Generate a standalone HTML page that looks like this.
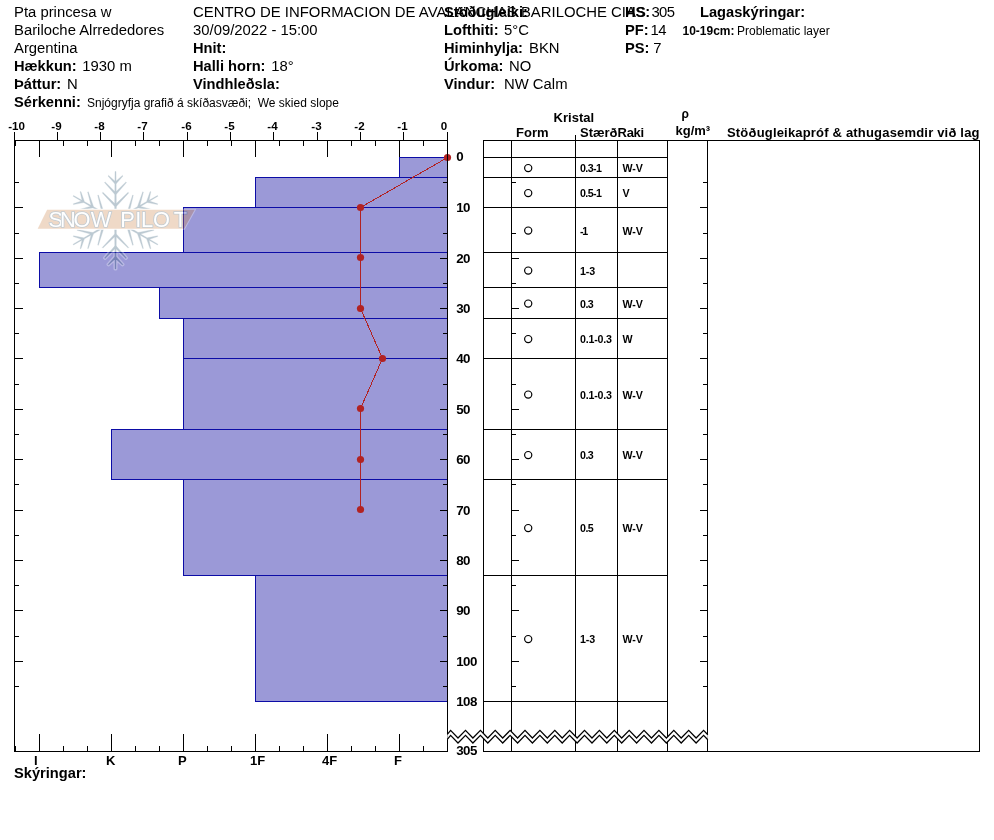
<!DOCTYPE html>
<html lang="is"><head><meta charset="utf-8"><title>Snow profile</title>
<style>html,body{margin:0;padding:0;background:#fff}svg{display:block}text{font-family:"Liberation Sans",sans-serif;fill:#000}.b{font-weight:bold}</style></head><body>
<svg width="994" height="840" viewBox="0 0 994 840">
<rect width="994" height="840" fill="#fff"/>
<g id="header">
<text x="14" y="16.7" font-size="14.85">Pta princesa w</text>
<text x="14" y="34.7" font-size="14.85">Bariloche Alrrededores</text>
<text x="14" y="52.7" font-size="14.85">Argentina</text>
<text x="14" y="70.7" font-size="14.67" class="b">Hækkun:</text>
<text x="82.3" y="70.7" font-size="14.85">1930 m</text>
<text x="14" y="88.7" font-size="14.67" class="b">Þáttur:</text>
<text x="67.1" y="88.7" font-size="14.85">N</text>
<text x="14" y="106.7" font-size="14.67" class="b">Sérkenni:</text>
<text x="87" y="106.7" font-size="12" style="white-space:pre">Snjógryfja grafið á skíðasvæði;  We skied slope</text>
<text x="193" y="16.7" font-size="14.9">CENTRO DE INFORMACION DE AVALANCHAS BARILOCHE CIAS</text>
<text x="193" y="34.7" font-size="14.85">30/09/2022 - 15:00</text>
<text x="193" y="52.7" font-size="14.67" class="b">Hnit:</text>
<text x="193" y="70.7" font-size="14.67" class="b">Halli horn:</text>
<text x="271.3" y="70.7" font-size="14.85">18°</text>
<text x="193" y="88.7" font-size="14.67" class="b">Vindhleðsla:</text>
<text x="444" y="16.7" font-size="14.67" class="b">Stöðugleiki:</text>
<text x="444" y="34.7" font-size="14.67" class="b">Lofthiti:</text>
<text x="504" y="34.7" font-size="14.85">5°C</text>
<text x="444" y="52.7" font-size="14.67" class="b">Himinhylja:</text>
<text x="529" y="52.7" font-size="14.85">BKN</text>
<text x="444" y="70.7" font-size="14.67" class="b">Úrkoma:</text>
<text x="509" y="70.7" font-size="14.85">NO</text>
<text x="444" y="88.7" font-size="14.67" class="b">Vindur:</text>
<text x="504" y="88.7" font-size="14.85">NW Calm</text>
<text x="625" y="16.7" font-size="14.67" class="b">HS:</text>
<text x="651.4" y="16.7" font-size="14.85" textLength="23.6" lengthAdjust="spacing">305</text>
<text x="625" y="34.7" font-size="14.67" class="b">PF:</text>
<text x="650.6" y="34.7" font-size="14.85" textLength="15.9" lengthAdjust="spacing">14</text>
<text x="625" y="52.7" font-size="14.67" class="b">PS:</text>
<text x="653.3" y="52.7" font-size="14.85">7</text>
<text x="700" y="16.7" font-size="14.67" class="b">Lagaskýringar:</text>
<text x="682.5" y="34.7" font-size="12" class="b">10-19cm:</text>
<text x="737" y="34.7" font-size="12">Problematic layer</text>
</g>
<g id="bars" fill="#9b99d7" stroke="#0c0ca6" stroke-width="1">
<rect x="399.5" y="157.5" width="48.0" height="20.0"/>
<rect x="255.5" y="177.5" width="192.0" height="30.0"/>
<rect x="183.5" y="207.5" width="264.0" height="45.0"/>
<rect x="39.5" y="252.5" width="408.0" height="35.0"/>
<rect x="159.5" y="287.5" width="288.0" height="31.0"/>
<rect x="183.5" y="318.5" width="264.0" height="40.0"/>
<rect x="183.5" y="358.5" width="264.0" height="71.0"/>
<rect x="111.5" y="429.5" width="336.0" height="50.0"/>
<rect x="183.5" y="479.5" width="264.0" height="96.0"/>
<rect x="255.5" y="575.5" width="192.0" height="126.0"/>
</g>
<g id="logo" opacity="0.31">
<path d="M116.5 220.2L116.0 171.5L115.0 171.5L114.5 220.2ZM116.2 182.3L108.6 175.4L108.0 176.0L114.8 183.7ZM116.2 183.7L123.0 176.0L122.4 175.4L114.8 182.3ZM116.3 192.9L105.1 181.9L104.5 182.5L114.7 194.3ZM116.3 194.3L126.5 182.5L125.9 181.9L114.7 192.9ZM116.3 205.1L102.9 192.3L102.3 192.9L114.7 206.5ZM116.3 206.5L128.7 192.9L128.1 192.3L114.7 205.1ZM116.0 221.1L157.9 196.2L157.5 195.5L115.0 219.3ZM148.7 201.9L150.8 191.8L150.1 191.6L146.7 201.3ZM147.5 202.6L157.5 204.6L157.7 203.8L148.0 200.6ZM139.5 207.2L143.4 192.0L142.7 191.8L137.5 206.6ZM138.3 207.9L153.7 210.9L153.9 210.1L138.8 205.9ZM129.0 213.3L133.3 195.3L132.6 195.1L127.0 212.7ZM127.7 214.0L145.8 218.0L146.0 217.2L128.2 212.0ZM115.0 221.1L157.5 244.9L157.9 244.2L116.0 219.3ZM148.0 239.8L157.7 236.6L157.5 235.8L147.5 237.8ZM146.7 239.1L150.1 248.8L150.8 248.6L148.7 238.5ZM138.8 234.5L153.9 230.3L153.7 229.5L138.3 232.5ZM137.5 233.8L142.7 248.6L143.4 248.4L139.5 233.2ZM128.2 228.4L146.0 223.2L145.8 222.4L127.7 226.4ZM127.0 227.7L132.6 245.3L133.3 245.1L129.0 227.1ZM114.5 220.2L115.0 268.9L116.0 268.9L116.5 220.2ZM114.8 258.1L122.4 265.0L123.0 264.4L116.2 256.7ZM114.8 256.7L108.0 264.4L108.6 265.0L116.2 258.1ZM114.7 247.5L125.9 258.5L126.5 257.9L116.3 246.1ZM114.7 246.1L104.5 257.9L105.1 258.5L116.3 247.5ZM114.7 235.3L128.1 248.1L128.7 247.5L116.3 233.9ZM114.7 233.9L102.3 247.5L102.9 248.1L116.3 235.3ZM115.0 219.3L73.1 244.2L73.5 244.9L116.0 221.1ZM82.3 238.5L80.2 248.6L80.9 248.8L84.3 239.1ZM83.5 237.8L73.5 235.8L73.3 236.6L83.0 239.8ZM91.5 233.2L87.6 248.4L88.3 248.6L93.5 233.8ZM92.7 232.5L77.3 229.5L77.1 230.3L92.2 234.5ZM102.0 227.1L97.7 245.1L98.4 245.3L104.0 227.7ZM103.3 226.4L85.2 222.4L85.0 223.2L102.8 228.4ZM116.0 219.3L73.5 195.5L73.1 196.2L115.0 221.1ZM83.0 200.6L73.3 203.8L73.5 204.6L83.5 202.6ZM84.3 201.3L80.9 191.6L80.2 191.8L82.3 201.9ZM92.2 205.9L77.1 210.1L77.3 210.9L92.7 207.9ZM93.5 206.6L88.3 191.8L87.6 192.0L91.5 207.2ZM102.8 212.0L85.0 217.2L85.2 218.0L103.3 214.0ZM104.0 212.7L98.4 195.1L97.7 195.3L102.0 213.3Z" fill="#fff" stroke="#fff" stroke-width="3" stroke-linejoin="round"/>
<path d="M116.5 220.2L116.0 171.5L115.0 171.5L114.5 220.2ZM116.2 182.3L108.6 175.4L108.0 176.0L114.8 183.7ZM116.2 183.7L123.0 176.0L122.4 175.4L114.8 182.3ZM116.3 192.9L105.1 181.9L104.5 182.5L114.7 194.3ZM116.3 194.3L126.5 182.5L125.9 181.9L114.7 192.9ZM116.3 205.1L102.9 192.3L102.3 192.9L114.7 206.5ZM116.3 206.5L128.7 192.9L128.1 192.3L114.7 205.1ZM116.0 221.1L157.9 196.2L157.5 195.5L115.0 219.3ZM148.7 201.9L150.8 191.8L150.1 191.6L146.7 201.3ZM147.5 202.6L157.5 204.6L157.7 203.8L148.0 200.6ZM139.5 207.2L143.4 192.0L142.7 191.8L137.5 206.6ZM138.3 207.9L153.7 210.9L153.9 210.1L138.8 205.9ZM129.0 213.3L133.3 195.3L132.6 195.1L127.0 212.7ZM127.7 214.0L145.8 218.0L146.0 217.2L128.2 212.0ZM115.0 221.1L157.5 244.9L157.9 244.2L116.0 219.3ZM148.0 239.8L157.7 236.6L157.5 235.8L147.5 237.8ZM146.7 239.1L150.1 248.8L150.8 248.6L148.7 238.5ZM138.8 234.5L153.9 230.3L153.7 229.5L138.3 232.5ZM137.5 233.8L142.7 248.6L143.4 248.4L139.5 233.2ZM128.2 228.4L146.0 223.2L145.8 222.4L127.7 226.4ZM127.0 227.7L132.6 245.3L133.3 245.1L129.0 227.1ZM114.5 220.2L115.0 268.9L116.0 268.9L116.5 220.2ZM114.8 258.1L122.4 265.0L123.0 264.4L116.2 256.7ZM114.8 256.7L108.0 264.4L108.6 265.0L116.2 258.1ZM114.7 247.5L125.9 258.5L126.5 257.9L116.3 246.1ZM114.7 246.1L104.5 257.9L105.1 258.5L116.3 247.5ZM114.7 235.3L128.1 248.1L128.7 247.5L116.3 233.9ZM114.7 233.9L102.3 247.5L102.9 248.1L116.3 235.3ZM115.0 219.3L73.1 244.2L73.5 244.9L116.0 221.1ZM82.3 238.5L80.2 248.6L80.9 248.8L84.3 239.1ZM83.5 237.8L73.5 235.8L73.3 236.6L83.0 239.8ZM91.5 233.2L87.6 248.4L88.3 248.6L93.5 233.8ZM92.7 232.5L77.3 229.5L77.1 230.3L92.2 234.5ZM102.0 227.1L97.7 245.1L98.4 245.3L104.0 227.7ZM103.3 226.4L85.2 222.4L85.0 223.2L102.8 228.4ZM116.0 219.3L73.5 195.5L73.1 196.2L115.0 221.1ZM83.0 200.6L73.3 203.8L73.5 204.6L83.5 202.6ZM84.3 201.3L80.9 191.6L80.2 191.8L82.3 201.9ZM92.2 205.9L77.1 210.1L77.3 210.9L92.7 207.9ZM93.5 206.6L88.3 191.8L87.6 192.0L91.5 207.2ZM102.8 212.0L85.0 217.2L85.2 218.0L103.3 214.0ZM104.0 212.7L98.4 195.1L97.7 195.3L102.0 213.3Z" fill="#2a5470" stroke="#2a5470" stroke-width="0.3" stroke-linejoin="round"/>
<polygon points="47.1,209.8 194.7,209.8 184.1,228.8 37.7,228.8" fill="#ce874d" stroke="#fff" stroke-width="2"/>
<polygon points="47.1,209.8 194.7,209.8 184.1,228.8 37.7,228.8" fill="#ce874d"/>
<text x="48.6 60 73.5 90.8 112 120.3 135.2 141 153.1 173.7" y="227.4" font-size="21.8" fill="#fff" stroke="#3c5a70" stroke-width="1.7" paint-order="stroke" style="fill:#fff">SNOW PILOT</text>
</g>
<polyline points="447.5,157.5 360.5,207.5 360.5,257.5 360.5,308.5 382.5,358.5 360.5,408.5 360.5,459.5 360.5,509.5" fill="none" stroke="#b22222" stroke-width="1" shape-rendering="crispEdges"/>
<circle cx="447.5" cy="157.5" r="3.6" fill="#b22222"/>
<circle cx="360.5" cy="207.5" r="3.6" fill="#b22222"/>
<circle cx="360.5" cy="257.5" r="3.6" fill="#b22222"/>
<circle cx="360.5" cy="308.5" r="3.6" fill="#b22222"/>
<circle cx="382.5" cy="358.5" r="3.6" fill="#b22222"/>
<circle cx="360.5" cy="408.5" r="3.6" fill="#b22222"/>
<circle cx="360.5" cy="459.5" r="3.6" fill="#b22222"/>
<circle cx="360.5" cy="509.5" r="3.6" fill="#b22222"/>
<g id="axes" stroke="#000" stroke-width="1" fill="none" shape-rendering="crispEdges">
<path d="M14.5 140.5H448.0M14.5 140V751.5H448.0M447.5 140V752"/>
<path d="M14.5 141V132M57.5 141V132M100.5 141V132M143.5 141V132M187.5 141V132M230.5 141V132M273.5 141V132M317.5 141V132M360.5 141V132M403.5 141V132M447.5 141V132"/>
<path d="M15.5 141v5M15.5 751v-5M39.5 141v16M39.5 751v-17M63.5 141v5M63.5 751v-5M87.5 141v5M87.5 751v-5M111.5 141v16M111.5 751v-17M135.5 141v5M135.5 751v-5M159.5 141v5M159.5 751v-5M183.5 141v16M183.5 751v-17M207.5 141v5M207.5 751v-5M231.5 141v5M231.5 751v-5M255.5 141v16M255.5 751v-17M279.5 141v5M279.5 751v-5M303.5 141v5M303.5 751v-5M327.5 141v16M327.5 751v-17M351.5 141v5M351.5 751v-5M375.5 141v5M375.5 751v-5M399.5 141v16M399.5 751v-17M423.5 141v5M423.5 751v-5M447.5 141v5M447.5 751v-5"/>
<path d="M15.0 182.5h4M447.0 182.5h-4M15.0 207.5h8M447.0 207.5h-7M15.0 233.5h4M447.0 233.5h-4M15.0 258.5h8M447.0 258.5h-7M15.0 283.5h4M447.0 283.5h-4M15.0 308.5h8M447.0 308.5h-7M15.0 333.5h4M447.0 333.5h-4M15.0 358.5h8M447.0 358.5h-7M15.0 384.5h4M447.0 384.5h-4M15.0 409.5h8M447.0 409.5h-7M15.0 434.5h4M447.0 434.5h-4M15.0 459.5h8M447.0 459.5h-7M15.0 484.5h4M447.0 484.5h-4M15.0 510.5h8M447.0 510.5h-7M15.0 535.5h4M447.0 535.5h-4M15.0 560.5h8M447.0 560.5h-7M15.0 585.5h4M447.0 585.5h-4M15.0 610.5h8M447.0 610.5h-7M15.0 636.5h4M447.0 636.5h-4M15.0 661.5h8M447.0 661.5h-7M15.0 686.5h4M447.0 686.5h-4"/>
</g>
<text x="8.2" y="130.4" font-size="11.6" class="b">-10</text>
<text x="56.5" y="130.4" font-size="11.6" class="b" text-anchor="middle">-9</text>
<text x="99.5" y="130.4" font-size="11.6" class="b" text-anchor="middle">-8</text>
<text x="142.5" y="130.4" font-size="11.6" class="b" text-anchor="middle">-7</text>
<text x="186.5" y="130.4" font-size="11.6" class="b" text-anchor="middle">-6</text>
<text x="229.5" y="130.4" font-size="11.6" class="b" text-anchor="middle">-5</text>
<text x="272.5" y="130.4" font-size="11.6" class="b" text-anchor="middle">-4</text>
<text x="316.5" y="130.4" font-size="11.6" class="b" text-anchor="middle">-3</text>
<text x="359.5" y="130.4" font-size="11.6" class="b" text-anchor="middle">-2</text>
<text x="402.5" y="130.4" font-size="11.6" class="b" text-anchor="middle">-1</text>
<text x="443.9" y="130.4" font-size="11.6" class="b" text-anchor="middle">0</text>
<text x="456.3" y="161.3" font-size="13.33" class="b" textLength="7" lengthAdjust="spacing">0</text>
<text x="456.3" y="211.5" font-size="13.33" class="b" textLength="14" lengthAdjust="spacing">10</text>
<text x="456.3" y="262.8" font-size="13.33" class="b" textLength="14" lengthAdjust="spacing">20</text>
<text x="456.3" y="312.8" font-size="13.33" class="b" textLength="14" lengthAdjust="spacing">30</text>
<text x="456.3" y="362.8" font-size="13.33" class="b" textLength="14" lengthAdjust="spacing">40</text>
<text x="456.3" y="413.8" font-size="13.33" class="b" textLength="14" lengthAdjust="spacing">50</text>
<text x="456.3" y="463.8" font-size="13.33" class="b" textLength="14" lengthAdjust="spacing">60</text>
<text x="456.3" y="514.8" font-size="13.33" class="b" textLength="14" lengthAdjust="spacing">70</text>
<text x="456.3" y="564.8" font-size="13.33" class="b" textLength="14" lengthAdjust="spacing">80</text>
<text x="456.3" y="614.8" font-size="13.33" class="b" textLength="14" lengthAdjust="spacing">90</text>
<text x="456.3" y="665.8" font-size="13.33" class="b" textLength="21" lengthAdjust="spacing">100</text>
<text x="456.3" y="705.8" font-size="13.33" class="b" textLength="21" lengthAdjust="spacing">108</text>
<text x="456.3" y="755.3" font-size="13.33" class="b" textLength="21" lengthAdjust="spacing">305</text>
<text x="34.0" y="764.5" font-size="13" class="b">I</text>
<text x="106.0" y="764.5" font-size="13" class="b">K</text>
<text x="178.0" y="764.5" font-size="13" class="b">P</text>
<text x="250.0" y="764.5" font-size="13" class="b">1F</text>
<text x="322.0" y="764.5" font-size="13" class="b">4F</text>
<text x="394.0" y="764.5" font-size="13" class="b">F</text>
<text x="14" y="778.3" font-size="14.67" class="b">Skýringar:</text>
<g id="table" stroke="#000" stroke-width="1" fill="none" shape-rendering="crispEdges">
<path d="M483 140.5H980M979.5 140V752M483 751.5H980M575.5 135V140"/>
<path d="M483.5 140V752M511.5 140V752M575.5 140V752M617.5 140V752M667.5 140V752M707.5 140V752"/>
<path d="M483 157.5H668M483 177.5H668M483 207.5H668M483 252.5H668M483 287.5H668M483 318.5H668M483 358.5H668M483 429.5H668M483 479.5H668M483 575.5H668M483 701.5H668"/>
<path d="M512 182.5h4M707 182.5h-4M512 207.5h7M707 207.5h-7M512 233.5h4M707 233.5h-4M512 258.5h7M707 258.5h-7M512 283.5h4M707 283.5h-4M512 308.5h7M707 308.5h-7M512 333.5h4M707 333.5h-4M512 358.5h7M707 358.5h-7M512 384.5h4M707 384.5h-4M512 409.5h7M707 409.5h-7M512 434.5h4M707 434.5h-4M512 459.5h7M707 459.5h-7M512 484.5h4M707 484.5h-4M512 510.5h7M707 510.5h-7M512 535.5h4M707 535.5h-4M512 560.5h7M707 560.5h-7M512 585.5h4M707 585.5h-4M512 610.5h7M707 610.5h-7M512 636.5h4M707 636.5h-4M512 661.5h7M707 661.5h-7M512 686.5h4M707 686.5h-4"/>
</g>
<polygon points="447.3,734.4 450.6,730.4 458.0,738.0 465.5,730.4 472.9,738.0 480.4,730.4 487.8,738.0 495.2,730.4 502.7,738.0 510.1,730.4 517.6,738.0 525.0,730.4 532.4,738.0 539.9,730.4 547.3,738.0 554.8,730.4 562.2,738.0 569.6,730.4 577.1,738.0 584.5,730.4 592.0,738.0 599.4,730.4 606.8,738.0 614.3,730.4 621.7,738.0 629.2,730.4 636.6,738.0 644.0,730.4 651.5,738.0 658.9,730.4 666.4,738.0 673.8,730.4 681.2,738.0 688.7,730.4 696.1,738.0 703.6,730.4 707.8,734.7 707.8,739.7 703.6,735.4 696.1,743.0 688.7,735.4 681.2,743.0 673.8,735.4 666.4,743.0 658.9,735.4 651.5,743.0 644.0,735.4 636.6,743.0 629.2,735.4 621.7,743.0 614.3,735.4 606.8,743.0 599.4,735.4 592.0,743.0 584.5,735.4 577.1,743.0 569.6,735.4 562.2,743.0 554.8,735.4 547.3,743.0 539.9,735.4 532.4,743.0 525.0,735.4 517.6,743.0 510.1,735.4 502.7,743.0 495.2,735.4 487.8,743.0 480.4,735.4 472.9,743.0 465.5,735.4 458.0,743.0 450.6,735.4 447.3,739.4" fill="#fff"/>
<polyline points="447.3,734.4 450.6,730.4 458.0,738.0 465.5,730.4 472.9,738.0 480.4,730.4 487.8,738.0 495.2,730.4 502.7,738.0 510.1,730.4 517.6,738.0 525.0,730.4 532.4,738.0 539.9,730.4 547.3,738.0 554.8,730.4 562.2,738.0 569.6,730.4 577.1,738.0 584.5,730.4 592.0,738.0 599.4,730.4 606.8,738.0 614.3,730.4 621.7,738.0 629.2,730.4 636.6,738.0 644.0,730.4 651.5,738.0 658.9,730.4 666.4,738.0 673.8,730.4 681.2,738.0 688.7,730.4 696.1,738.0 703.6,730.4 707.8,734.7" fill="none" stroke="#000" stroke-width="1.25"/>
<polyline points="447.3,739.4 450.6,735.4 458.0,743.0 465.5,735.4 472.9,743.0 480.4,735.4 487.8,743.0 495.2,735.4 502.7,743.0 510.1,735.4 517.6,743.0 525.0,735.4 532.4,743.0 539.9,735.4 547.3,743.0 554.8,735.4 562.2,743.0 569.6,735.4 577.1,743.0 584.5,735.4 592.0,743.0 599.4,735.4 606.8,743.0 614.3,735.4 621.7,743.0 629.2,735.4 636.6,743.0 644.0,735.4 651.5,743.0 658.9,735.4 666.4,743.0 673.8,735.4 681.2,743.0 688.7,735.4 696.1,743.0 703.6,735.4 707.8,739.7" fill="none" stroke="#000" stroke-width="1.25"/>
<text x="553.6" y="121.6" font-size="13" class="b">Kristal</text>
<text x="516" y="136.7" font-size="13" class="b">Form</text>
<text x="580" y="136.7" font-size="13" class="b">Stærð</text>
<text x="617.6" y="136.7" font-size="13" class="b" textLength="26.4" lengthAdjust="spacing">Raki</text>
<text x="681.5" y="118" font-size="12" class="b">ρ</text>
<text x="675.5" y="134.5" font-size="13" class="b">kg/m³</text>
<text x="727" y="136.7" font-size="13" class="b" textLength="252.5" lengthAdjust="spacing">Stöðugleikapróf &amp; athugasemdir við lag</text>
<circle cx="528.2" cy="168.1" r="3.6" fill="none" stroke="#000" stroke-width="1.2"/>
<text x="580" y="172.0" font-size="10.67" class="b" textLength="21.9" lengthAdjust="spacing">0.3-1</text>
<text x="622.6" y="172.0" font-size="10.67" class="b" textLength="20.3" lengthAdjust="spacing">W-V</text>
<circle cx="528.2" cy="193.1" r="3.6" fill="none" stroke="#000" stroke-width="1.2"/>
<text x="580" y="197.0" font-size="10.67" class="b" textLength="21.9" lengthAdjust="spacing">0.5-1</text>
<text x="622.6" y="197.0" font-size="10.67" class="b">V</text>
<circle cx="528.2" cy="230.6" r="3.6" fill="none" stroke="#000" stroke-width="1.2"/>
<text x="580" y="234.5" font-size="10.67" class="b" textLength="8.1" lengthAdjust="spacing">-1</text>
<text x="622.6" y="234.5" font-size="10.67" class="b" textLength="20.3" lengthAdjust="spacing">W-V</text>
<circle cx="528.2" cy="270.6" r="3.6" fill="none" stroke="#000" stroke-width="1.2"/>
<text x="580" y="274.5" font-size="10.67" class="b" textLength="15.1" lengthAdjust="spacing">1-3</text>
<circle cx="528.2" cy="303.6" r="3.6" fill="none" stroke="#000" stroke-width="1.2"/>
<text x="580" y="307.5" font-size="10.67" class="b" textLength="13.8" lengthAdjust="spacing">0.3</text>
<text x="622.6" y="307.5" font-size="10.67" class="b" textLength="20.3" lengthAdjust="spacing">W-V</text>
<circle cx="528.2" cy="339.1" r="3.6" fill="none" stroke="#000" stroke-width="1.2"/>
<text x="580" y="343.0" font-size="10.67" class="b" textLength="31.95" lengthAdjust="spacing">0.1-0.3</text>
<text x="622.6" y="343.0" font-size="10.67" class="b">W</text>
<circle cx="528.2" cy="394.6" r="3.6" fill="none" stroke="#000" stroke-width="1.2"/>
<text x="580" y="398.5" font-size="10.67" class="b" textLength="31.95" lengthAdjust="spacing">0.1-0.3</text>
<text x="622.6" y="398.5" font-size="10.67" class="b" textLength="20.3" lengthAdjust="spacing">W-V</text>
<circle cx="528.2" cy="455.1" r="3.6" fill="none" stroke="#000" stroke-width="1.2"/>
<text x="580" y="459.0" font-size="10.67" class="b" textLength="13.8" lengthAdjust="spacing">0.3</text>
<text x="622.6" y="459.0" font-size="10.67" class="b" textLength="20.3" lengthAdjust="spacing">W-V</text>
<circle cx="528.2" cy="528.1" r="3.6" fill="none" stroke="#000" stroke-width="1.2"/>
<text x="580" y="532.0" font-size="10.67" class="b" textLength="13.8" lengthAdjust="spacing">0.5</text>
<text x="622.6" y="532.0" font-size="10.67" class="b" textLength="20.3" lengthAdjust="spacing">W-V</text>
<circle cx="528.2" cy="639.1" r="3.6" fill="none" stroke="#000" stroke-width="1.2"/>
<text x="580" y="643.0" font-size="10.67" class="b" textLength="15.1" lengthAdjust="spacing">1-3</text>
<text x="622.6" y="643.0" font-size="10.67" class="b" textLength="20.3" lengthAdjust="spacing">W-V</text>
</svg></body></html>
